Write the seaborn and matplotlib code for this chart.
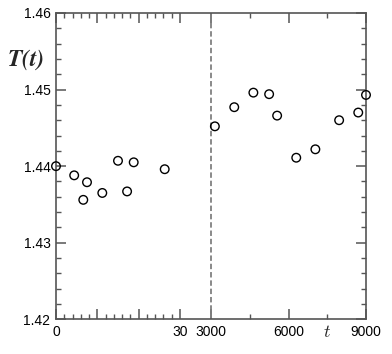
import numpy as np
import pandas as pd
import matplotlib
matplotlib.use("Agg")
import matplotlib.pyplot as plt
import matplotlib.transforms as mtransforms
import seaborn as sns

# ---- data ----
t_early = [0, 4.4, 6.6, 7.5, 11.2, 15.0, 17.2, 18.8, 26.3]
T_early = [1.4400, 1.4388, 1.4356, 1.4379, 1.4365, 1.4407, 1.4367, 1.4405, 1.4396]
t_late = [3150, 3900, 4640, 5250, 5560, 6300, 7040, 7960, 8700, 9000]
T_late = [1.4452, 1.4477, 1.4496, 1.4494, 1.4466, 1.4411, 1.4422, 1.4460, 1.4470, 1.4493]

x_major = [0, 10, 20, 30, 3000, 6000, 9000]
x_major_labels = ["0", "", "", "30", "3000", "6000", "9000"]
x_minor = [2, 4, 6, 8, 12, 14, 16, 18, 22, 24, 26, 28, 4500, 7500]
y_major = [1.42, 1.43, 1.44, 1.45, 1.46]
y_major_labels = ["1.42", "1.43", "1.44", "1.45", "1.46"]

LEFT_MAX = 37.5
BREAK = 3000.0
T_MAX = 9000.0

sns.set_style("ticks")
plt.rcParams["font.family"] = ["Liberation Sans", "DejaVu Sans"]
plt.rcParams["mathtext.fontset"] = "cm"

df = pd.DataFrame({"t": t_early + t_late, "T": T_early + T_late})

fig = plt.figure(figsize=(3.92, 3.54), dpi=100)
ax = fig.add_axes([56 / 392, 1 - 319.3 / 354, 310 / 392, 306.3 / 354])


def fwd(t):
    t = np.asarray(t, dtype=float)
    return np.where(t <= LEFT_MAX, t / LEFT_MAX,
                    np.where(t >= BREAK, 1 + (t - BREAK) / (T_MAX - BREAK), 1.0))


def inv(u):
    u = np.asarray(u, dtype=float)
    return np.where(u <= 1, u * LEFT_MAX, BREAK + (u - 1) * (T_MAX - BREAK))


ax.set_xscale("function", functions=(fwd, inv))

ax.axvline(BREAK, color="#808080", lw=1.3, ls=(0, (3, 1.6)), zorder=1)

sns.scatterplot(data=df, x="t", y="T", ax=ax, s=38, marker="o",
                facecolor="none", edgecolor="black", linewidth=1.0,
                clip_on=False, zorder=3, legend=False)

ax.set_xlim(0, T_MAX)
ax.set_ylim(1.42, 1.46)

ax.set_xticks(x_major)
ax.set_xticklabels(x_major_labels)
ax.set_xticks(x_minor, minor=True)
ax.set_yticks(y_major)
ax.set_yticklabels(y_major_labels)
ax.set_yticks(np.arange(1.422, 1.4599, 0.002), minor=True)

ax.tick_params(which="both", direction="in", top=True, right=True,
               color="#555555", labelsize=10, labelcolor="black")
ax.tick_params(which="major", length=7, width=1.1, pad=4)
ax.tick_params(which="minor", length=3.5, width=1.0)

for sp in ax.spines.values():
    sp.set_color("#555555")
    sp.set_linewidth(1.2)

ax.set_xlabel("")
ax.set_ylabel("")

blend = mtransforms.blended_transform_factory(ax.transData, ax.transAxes)
ax.text(7500, -0.042, r"$t$", transform=blend, ha="center", va="center",
        fontsize=13)

fig.text(7.3 / 392, 1 - 59.3 / 354, r"$\mathbfit{T(t)}$", ha="left",
         va="center", fontsize=17)

fig.savefig("out.png", dpi=100)
